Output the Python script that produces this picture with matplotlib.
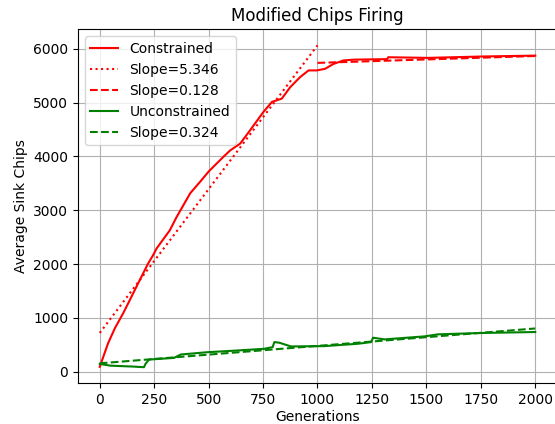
import matplotlib
matplotlib.use('Agg')
import matplotlib.pyplot as plt

# Constrained run
con_gen = [0, 38, 69, 107, 138, 176, 222, 245, 261, 322, 353, 416, 462, 500, 567, 598,
           645, 691, 752, 791, 836, 875, 920, 959, 997, 1035, 1073, 1119, 1165, 1320,
           1325, 1506, 1770, 2000]
con_chips = [90, 525, 804, 1082, 1330, 1640, 2010, 2165, 2290, 2630, 2875, 3320, 3535,
             3720, 3990, 4110, 4240, 4490, 4830, 5015, 5075, 5290, 5475, 5600, 5600, 5630,
             5720, 5785, 5800, 5810, 5845, 5833, 5860, 5875]

# Fit lines for constrained run
fit1_gen = [0, 1000]
fit1_chips = [720, 6066]
fit2_gen = [1000, 2000]
fit2_chips = [5740, 5868]

# Unconstrained run
unc_gen = [0, 49, 157, 203, 210, 226, 341, 372, 495, 633, 755, 794, 802, 825, 878, 1032,
           1186, 1247, 1255, 1308, 1492, 1553, 1753, 2000]
unc_chips = [144, 112, 94, 83, 144, 225, 256, 319, 362, 394, 425, 456, 550, 538, 469, 475,
             519, 550, 631, 600, 656, 694, 719, 737]

fit3_gen = [0, 2000]
fit3_chips = [155, 803]

fig, ax = plt.subplots(figsize=(5.55, 4.24), dpi=100)

ax.plot(con_gen, con_chips, 'r-', label='Constrained')
ax.plot(fit1_gen, fit1_chips, 'r:', label='Slope=5.346')
ax.plot(fit2_gen, fit2_chips, 'r--', label='Slope=0.128')
ax.plot(unc_gen, unc_chips, 'g-', label='Unconstrained')
ax.plot(fit3_gen, fit3_chips, 'g--', label='Slope=0.324')

ax.set_title('Modified Chips Firing')
ax.set_xlabel('Generations', labelpad=2)
ax.set_ylabel('Average Sink Chips')
ax.grid(True)
ax.legend(loc='upper left')

fig.subplots_adjust(left=0.1405, right=1.0036, top=0.931, bottom=0.096)
fig.savefig('out.png')
